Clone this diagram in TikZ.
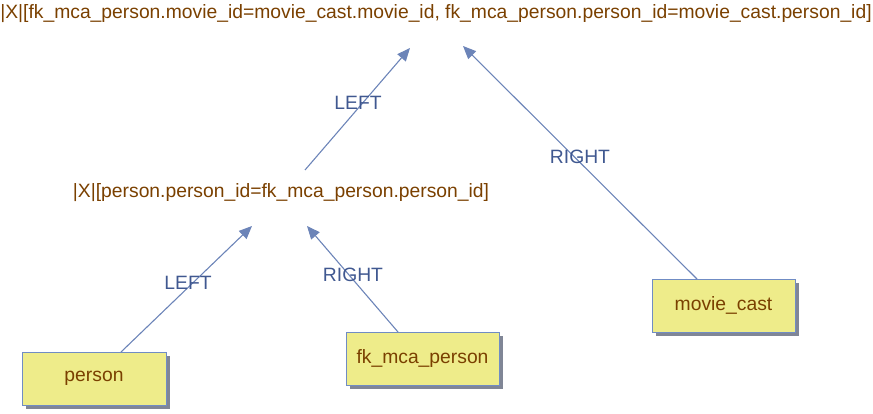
\documentclass[tikz,border=0pt]{standalone}
\usepackage{fontspec}
\setmainfont{Liberation Sans}
\usetikzlibrary{arrows.meta,shadows}
\definecolor{boxfill}{RGB}{238,236,138}
\definecolor{boxdraw}{RGB}{112,140,196}
\definecolor{shadowc}{RGB}{128,134,150}
\definecolor{txt}{RGB}{122,64,0}
\definecolor{lbl}{RGB}{64,88,144}
\definecolor{edge}{RGB}{108,132,184}
\tikzset{
  tbl/.style={draw=boxdraw, fill=boxfill, line width=1pt, text=txt, font=\fontsize{19.3}{22}\selectfont,
    minimum height=53pt, inner sep=0pt,
    drop shadow={shadow xshift=4pt, shadow yshift=-4pt, fill=shadowc, opacity=1}},
  joinlbl/.style={text=txt, font=\fontsize{19.3}{22}\selectfont, inner sep=0pt},
  elbl/.style={text=lbl, font=\fontsize{19.3}{22}\selectfont, inner sep=0pt},
  conn/.style={draw=edge, line width=1.1pt, -{Triangle[length=13pt,width=11pt]}}
}
\begin{document}
\begin{tikzpicture}[x=1pt,y=-1pt]
\useasboundingbox (0,0) rectangle (873,414);
\node[joinlbl] (top) at (436,14) {|X|[fk\_mca\_person.movie\_id=movie\_cast.movie\_id, fk\_mca\_person.person\_id=movie\_cast.person\_id]};
\node[joinlbl] (j1) at (281,193) {|X|[person.person\_id=fk\_mca\_person.person\_id]};
\node[tbl, minimum width=144pt] (person) at (94,378.5) {person};
\node[tbl, minimum width=153pt] (fk) at (422.5,358.5) {fk\_mca\_person};
\node[tbl, minimum width=143pt] (mc) at (723.5,305.5) {movie\_cast};
\coordinate (a1) at (252,226);
\coordinate (a2) at (307,226);
\coordinate (a3) at (410,48);
\coordinate (a4) at (463,46);
\coordinate (s1) at (121,352);
\coordinate (s2) at (398,332);
\coordinate (s3) at (305,170);
\coordinate (s4) at (697,279);
\draw[conn] (s1) -- (a1);
\draw[conn] (s2) -- (a2);
\draw[conn] (s3) -- (a3);
\draw[conn] (s4) -- (a4);
\node[elbl] (l1) at (188,283) {LEFT};
\node[elbl] (l2) at (353,275) {RIGHT};
\node[elbl] (l3) at (358,103) {LEFT};
\node[elbl] (l4) at (580,157) {RIGHT};
\end{tikzpicture}
\end{document}
